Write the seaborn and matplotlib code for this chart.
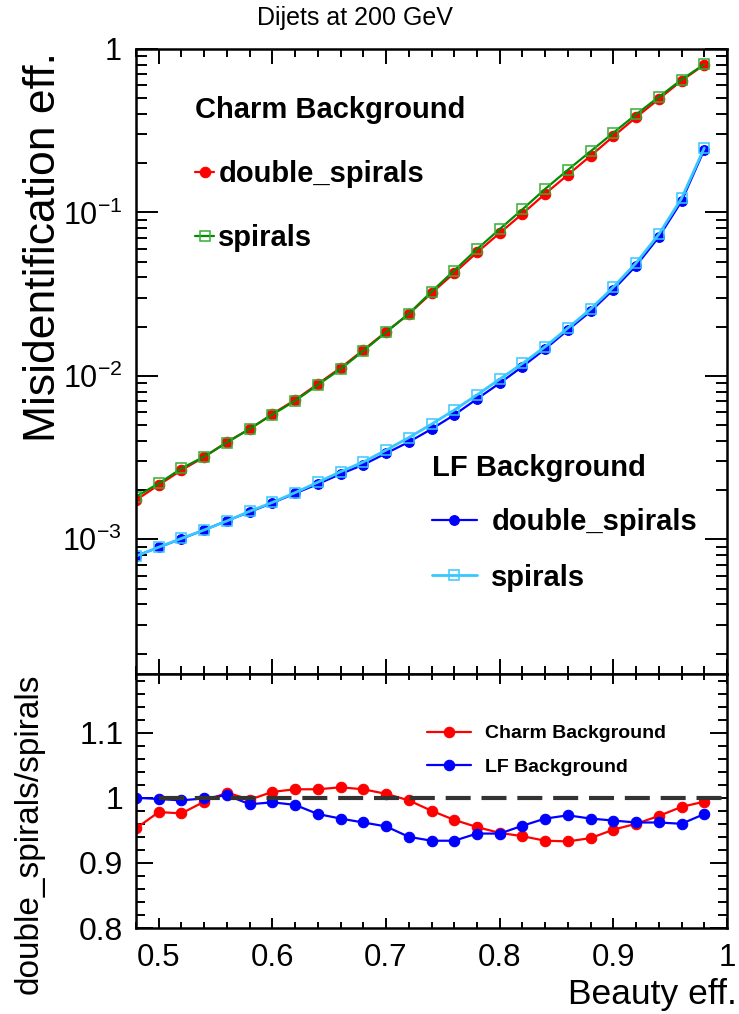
import numpy as np
import pandas as pd
import matplotlib
matplotlib.use("Agg")
import matplotlib.pyplot as plt
from matplotlib.ticker import MultipleLocator, LogLocator, FuncFormatter, NullFormatter
import seaborn as sns

# ---------------- data ----------------
beauty_eff = [0.48, 0.50, 0.52, 0.54, 0.56, 0.58, 0.60, 0.62, 0.64, 0.66, 0.68, 0.70, 0.72,
              0.74, 0.76, 0.78, 0.80, 0.82, 0.84, 0.86, 0.88, 0.90, 0.92, 0.94, 0.96, 0.98]

charm_double_spirals = [1.74e-3, 2.15e-3, 2.65e-3, 3.19e-3, 3.94e-3, 4.73e-3, 5.85e-3, 7.13e-3,
                        8.93e-3, 1.12e-2, 1.44e-2, 1.86e-2, 2.39e-2, 3.21e-2, 4.26e-2, 5.69e-2,
                        7.48e-2, 9.82e-2, 0.130, 0.170, 0.222, 0.292, 0.382, 0.494, 0.640, 0.802]
charm_spirals = [1.826e-3, 2.198e-3, 2.715e-3, 3.209e-3, 3.909e-3, 4.744e-3, 5.798e-3, 7.038e-3,
                 8.815e-3, 1.102e-2, 1.422e-2, 1.849e-2, 2.400e-2, 3.276e-2, 4.410e-2, 5.958e-2,
                 7.907e-2, 0.1044, 0.1392, 0.1822, 0.2367, 0.3070, 0.3979, 0.5082, 0.6491, 0.8068]
lf_double_spirals = [7.90e-4, 8.93e-4, 1.009e-3, 1.140e-3, 1.30e-3, 1.47e-3, 1.67e-3, 1.91e-3,
                     2.18e-3, 2.51e-3, 2.86e-3, 3.36e-3, 3.94e-3, 4.73e-3, 5.77e-3, 7.23e-3,
                     9.02e-3, 1.14e-2, 1.46e-2, 1.91e-2, 2.48e-2, 3.37e-2, 4.72e-2, 7.07e-2,
                     0.117, 0.242]
lf_spirals = [7.90e-4, 8.95e-4, 1.013e-3, 1.141e-3, 1.295e-3, 1.485e-3, 1.682e-3, 1.931e-3,
              2.236e-3, 2.593e-3, 2.973e-3, 3.515e-3, 4.191e-3, 5.064e-3, 6.178e-3, 7.651e-3,
              9.545e-3, 1.191e-2, 1.508e-2, 1.963e-2, 2.562e-2, 3.492e-2, 4.906e-2, 7.349e-2,
              0.1219, 0.2482]

ratio_charm = [0.953, 0.978, 0.976, 0.994, 1.008, 0.997, 1.009, 1.013, 1.013, 1.016, 1.013, 1.006,
               0.996, 0.980, 0.966, 0.955, 0.946, 0.941, 0.934, 0.933, 0.938, 0.951, 0.960, 0.972,
               0.986, 0.994]
ratio_lf = [1.000, 0.998, 0.996, 0.999, 1.004, 0.990, 0.993, 0.989, 0.975, 0.968, 0.962, 0.956,
            0.940, 0.934, 0.934, 0.945, 0.945, 0.957, 0.968, 0.973, 0.968, 0.965, 0.962, 0.962,
            0.960, 0.975]

ref_x = [0.50, 1.00]
ref_y = [1.0, 1.0]

title = "Dijets at 200 GeV"
xlabel = "Beauty eff."
ylabel_top = "Misidentification eff."
ylabel_bottom = "double_spirals/spirals"

# ---------------- style ----------------
sns.set_theme(style="ticks")
plt.rcParams["font.family"] = ["Liberation Sans", "DejaVu Sans"]
plt.rcParams["mathtext.default"] = "regular"
plt.rcParams["axes.linewidth"] = 1.8
for k in ["text.color", "axes.labelcolor", "xtick.color", "ytick.color", "axes.edgecolor"]:
    plt.rcParams[k] = "black"

RED = "#ff0000"
GREEN = "#008c00"
BLUE = "#0000ff"
LBLUE = "#38c8ff"

W, H = 739, 1014
fig = plt.figure(figsize=(W / 100, H / 100), dpi=100)
left, right = 136, 727
top_t, top_b = 49, 674
bot_t, bot_b = 674, 928
ax1 = fig.add_axes([left / W, 1 - top_b / H, (right - left) / W, (top_b - top_t) / H])
ax2 = fig.add_axes([left / W, 1 - bot_b / H, (right - left) / W, (bot_b - bot_t) / H])

df = pd.DataFrame({"x": beauty_eff, "cd": charm_double_spirals, "cs": charm_spirals,
                   "ld": lf_double_spirals, "ls": lf_spirals,
                   "rc": ratio_charm, "rl": ratio_lf})

# top panel
sns.lineplot(data=df, x="x", y="cd", ax=ax1, color=RED, lw=1.6, marker="o", markersize=7.5,
             markerfacecolor=RED, markeredgecolor=RED, markeredgewidth=0.8, legend=False)
sns.lineplot(data=df, x="x", y="cs", ax=ax1, color=GREEN, lw=1.6, marker="s", markersize=7.5,
             markerfacecolor="none", markeredgecolor="#33b033", markeredgewidth=1.1, legend=False)
sns.lineplot(data=df, x="x", y="ld", ax=ax1, color=BLUE, lw=1.6, marker="o", markersize=7,
             markerfacecolor=BLUE, markeredgecolor=BLUE, markeredgewidth=0.8, legend=False)
sns.lineplot(data=df, x="x", y="ls", ax=ax1, color=LBLUE, lw=2.0, marker="s", markersize=7.5,
             markerfacecolor="none", markeredgecolor=LBLUE, markeredgewidth=1.1, legend=False)
l_cd, l_cs, l_ld, l_ls = ax1.lines[:4]

ax1.set_yscale("log")
ax1.set_xlim(0.48, 1.0)
ax1.set_ylim(1.5e-4, 1.0)
ax1.set_xlabel("")
ax1.set_ylabel("")


def logfmt(v, pos):
    e = int(round(np.log10(v)))
    if e == 0:
        return "1"
    return r"$10^{%d}$" % e


ax1.yaxis.set_major_locator(LogLocator(base=10, numticks=10))
ax1.yaxis.set_minor_locator(LogLocator(base=10, subs=np.arange(2, 10), numticks=20))
ax1.yaxis.set_major_formatter(FuncFormatter(logfmt))
ax1.yaxis.set_minor_formatter(NullFormatter())
ax1.xaxis.set_major_locator(MultipleLocator(0.1))
ax1.xaxis.set_minor_locator(MultipleLocator(0.02))
ax1.xaxis.set_major_formatter(NullFormatter())
ax1.tick_params(axis="both", which="both", direction="in", top=True, right=True, width=1.4, color="black")
ax1.tick_params(axis="y", which="major", length=16, labelsize=22, pad=10)
ax1.tick_params(axis="y", which="minor", length=8)
ax1.tick_params(axis="x", which="major", length=11)
ax1.tick_params(axis="x", which="minor", length=6)
ax1.set_ylabel(ylabel_top, fontsize=32, loc="top")
ax1.yaxis.set_label_coords(-0.122, 0.995)

leg1 = ax1.legend(handles=[l_cd, l_cs], labels=["double_spirals", "spirals"],
                  title="Charm Background", loc="upper left", bbox_to_anchor=(0.1, 0.925),
                  frameon=False, numpoints=1, handlelength=0.65, handletextpad=0.15,
                  labelspacing=1.25, borderpad=0, borderaxespad=0, alignment="left",
                  prop={"size": 21, "weight": "bold"},
                  title_fontproperties={"size": 21, "weight": "bold"})
leg1._legend_box.sep = 26
ax1.add_artist(leg1)
leg2 = ax1.legend(handles=[l_ld, l_ls], labels=["double_spirals", "spirals"],
                  title="LF Background", loc="upper left", bbox_to_anchor=(0.5, 0.352),
                  frameon=False, numpoints=1, handlelength=1.55, handletextpad=0.5,
                  labelspacing=0.93, borderpad=0, borderaxespad=0, alignment="left",
                  prop={"size": 21, "weight": "bold"},
                  title_fontproperties={"size": 21, "weight": "bold"})
leg2._legend_box.sep = 19

# bottom panel
sns.lineplot(data=df, x="x", y="rc", ax=ax2, color=RED, lw=1.6, marker="o", markersize=7.5,
             markerfacecolor=RED, markeredgecolor=RED, markeredgewidth=0.8, legend=False)
sns.lineplot(data=df, x="x", y="rl", ax=ax2, color=BLUE, lw=1.6, marker="o", markersize=7.5,
             markerfacecolor=BLUE, markeredgecolor=BLUE, markeredgewidth=0.8, legend=False)
r_c, r_l = ax2.lines[:2]
ax2.plot(ref_x, ref_y, color="#333333", lw=3.0, linestyle=(0, (6, 2.6)), zorder=3)

ax2.set_xlim(0.48, 1.0)
ax2.set_ylim(0.8, 1.19)
ax2.set_xlabel("")
ax2.set_ylabel("")
ax2.xaxis.set_major_locator(MultipleLocator(0.1))
ax2.xaxis.set_minor_locator(MultipleLocator(0.02))
ax2.yaxis.set_major_locator(MultipleLocator(0.1))
ax2.yaxis.set_minor_locator(MultipleLocator(0.02))
fmt = FuncFormatter(lambda v, p: "%g" % round(v, 3))
ax2.xaxis.set_major_formatter(fmt)
ax2.yaxis.set_major_formatter(fmt)
ax2.tick_params(axis="both", which="both", direction="in", top=True, right=True, width=1.4, color="black")
ax2.tick_params(axis="y", which="major", length=12, labelsize=23, pad=9)
ax2.tick_params(axis="y", which="minor", length=6.5)
ax2.tick_params(axis="x", which="major", length=7, labelsize=22.5, pad=11)
ax2.tick_params(axis="x", which="minor", length=4)
ax2.set_ylabel(ylabel_bottom, fontsize=24, loc="top")
ax2.yaxis.set_label_coords(-0.155, 1.0)
ax2.set_xlabel(xlabel, fontsize=25.5, loc="right")
ax2.xaxis.set_label_coords(1.017, -0.197)

ax2.legend(handles=[r_c, r_l], labels=["Charm Background", "LF Background"],
           loc="upper left", bbox_to_anchor=(0.492, 0.80), frameon=False, numpoints=1,
           handlelength=2.3, handletextpad=0.7, labelspacing=0.82, borderpad=0, borderaxespad=0,
           prop={"size": 14, "weight": "bold"})

fig.text(355 / W, 1 - 18 / H, title, ha="center", va="center", fontsize=18)

fig.savefig("out.png", dpi=100)
